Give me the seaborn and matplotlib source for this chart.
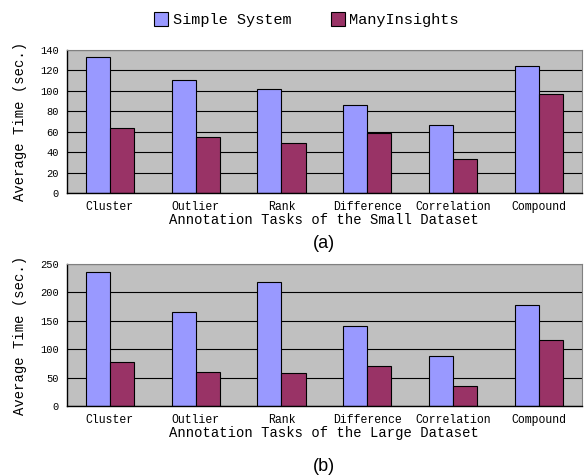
import matplotlib
matplotlib.use("Agg")
import matplotlib.pyplot as plt
import matplotlib.ticker as mticker
import pandas as pd
import seaborn as sns
from matplotlib.patches import Patch

# ── Data ─────────────────────────────────────────────────────────────────────
TASKS = ["Cluster", "Outlier", "Rank", "Difference", "Correlation", "Compound"]
SYSTEMS = ["Simple System", "ManyInsights"]

SMALL_SIMPLE = [133, 111, 102, 86, 67, 124]
SMALL_MANY   = [64, 55, 49, 59, 33, 97]
LARGE_SIMPLE = [236, 166, 219, 141, 88, 178]
LARGE_MANY   = [77, 60, 58, 71, 36, 116]

SMALL_TICKS = [0, 20, 40, 60, 80, 100, 120, 140]
LARGE_TICKS = [0, 50, 100, 150, 200, 250]

# ── Style ────────────────────────────────────────────────────────────────────
COLORS   = {"Simple System": "#9999FF", "ManyInsights": "#993366"}
PLOT_BG  = "#C0C0C0"
FONT     = "Liberation Mono"

sns.set_style("white")
plt.rcParams["font.family"] = [FONT, "DejaVu Sans"]
plt.rcParams["text.color"] = "black"


def long_frame(simple, many):
    return pd.DataFrame({
        "task":   TASKS * 2,
        "system": [SYSTEMS[0]] * len(TASKS) + [SYSTEMS[1]] * len(TASKS),
        "time":   list(simple) + list(many),
    })


def draw_panel(ax, df, ticks, xlabel):
    ax.set_facecolor(PLOT_BG)
    ax.set_axisbelow(True)
    ax.grid(axis="y", color="black", linewidth=0.8)
    sns.barplot(data=df, x="task", y="time", hue="system", order=TASKS,
                hue_order=SYSTEMS, palette=COLORS, width=0.56,
                edgecolor="black", linewidth=0.8, saturation=1,
                legend=False, ax=ax)
    ax.set_xlim(-0.5, len(TASKS) - 0.5)
    ax.set_ylim(ticks[0], ticks[-1])
    ax.set_yticks(ticks)
    ax.set_xticks(range(len(TASKS)))
    ax.set_xticklabels(TASKS, fontsize=8.3, color="black")
    ax.xaxis.set_minor_locator(mticker.FixedLocator(
        [i + 0.5 for i in range(len(TASKS) - 1)]))
    ax.tick_params(axis="x", which="major", length=0, pad=6)
    ax.tick_params(axis="x", which="minor", length=3, direction="in", color="black")
    ax.tick_params(axis="y", length=4, labelsize=7.5, color="black",
                   labelcolor="black", pad=2)
    ax.set_xlabel(xlabel, fontsize=10, labelpad=0, color="black")
    ax.set_ylabel("Average Time (sec.)", fontsize=10, labelpad=9, color="black")
    for side in ("left", "bottom"):
        ax.spines[side].set_color("black")
        ax.spines[side].set_linewidth(1.0)
    for side in ("top", "right"):
        ax.spines[side].set_color("#808080")
        ax.spines[side].set_linewidth(0.8)


fig = plt.figure(figsize=(5.85, 4.75), dpi=100)
ax_a = fig.add_axes([0.1145, 0.5937, 0.880, 0.301])
ax_b = fig.add_axes([0.1145, 0.1453, 0.880, 0.299])

draw_panel(ax_a, long_frame(SMALL_SIMPLE, SMALL_MANY), SMALL_TICKS,
           "Annotation Tasks of the Small Dataset")
draw_panel(ax_b, long_frame(LARGE_SIMPLE, LARGE_MANY), LARGE_TICKS,
           "Annotation Tasks of the Large Dataset")

handles = [Patch(facecolor=COLORS[s], edgecolor="black", linewidth=0.8, label=s)
           for s in SYSTEMS]
fig.legend(handles=handles, loc="center", bbox_to_anchor=(0.524, 0.958), ncol=2,
           frameon=False, fontsize=11, handlelength=0.9, handleheight=1.0,
           handletextpad=0.3, columnspacing=2.6)

fig.text(0.553, 0.488, "(a)", ha="center", va="center", fontsize=13,
         family="Liberation Sans")
fig.text(0.553, 0.017, "(b)", ha="center", va="center", fontsize=13,
         family="Liberation Sans")

fig.savefig("out.png", dpi=100, facecolor="white")
